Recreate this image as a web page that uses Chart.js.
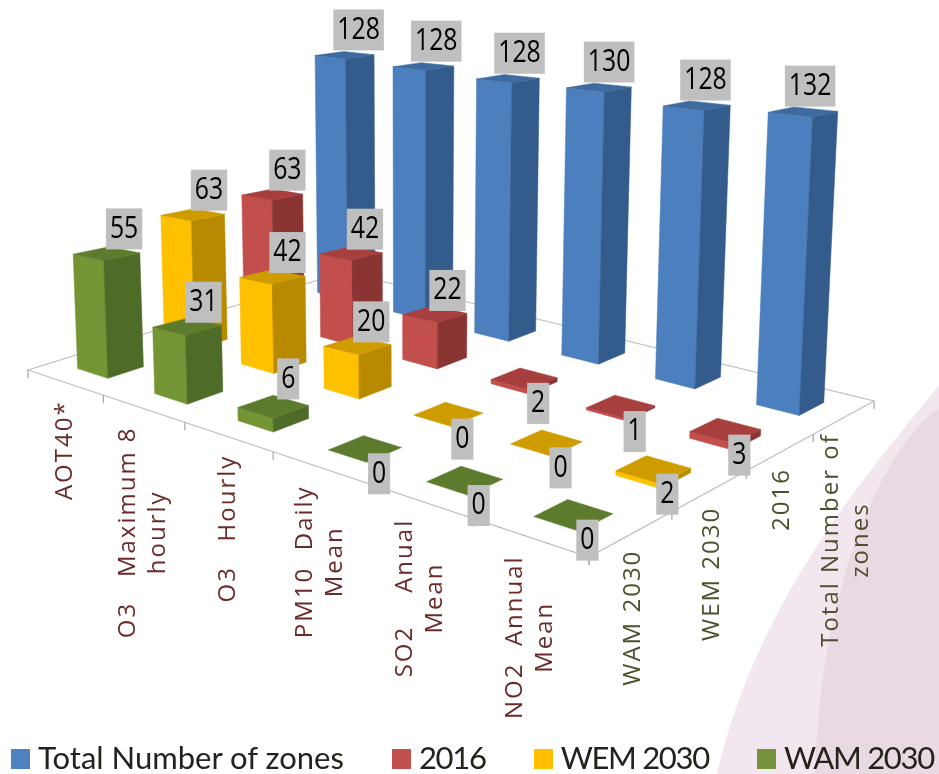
<!DOCTYPE html>
<html>
<head>
<meta charset="utf-8">
<title>Zones per pollutant and scenario</title>
<style>
    html, body { margin: 0; padding: 0; background: #fff; overflow: hidden; }
    #wrap { position: relative; width: 939px; height: 774px; }
    #legend {
        position: absolute; left: 11px; top: 738px; display: flex; gap: 48px;
        font: 31px Lato, sans-serif; color: #23231c; white-space: nowrap;
    }
    #legend span.item { display: flex; align-items: center; gap: 8px; }
    #legend span.item:not(:first-child) { letter-spacing: -1.3px; }
    #legend i { display: block; width: 19px; height: 20px; margin-top: 4px; }
</style>
<script src="https://cdn.jsdelivr.net/npm/chart.js@4"></script>
</head>
<body>
<div id="wrap">
    <canvas id="chart" width="939" height="774"></canvas>
    <div id="legend"></div>
</div>
<script>
const categories = [
    ['AOT40*'],
    ['O3   Maximum 8', 'hourly'],
    ['O3   Hourly'],
    ['PM10  Daily', 'Mean'],
    ['SO2    Anual', 'Mean'],
    ['NO2  Annual', 'Mean'],
];
const depthTicks = ['WAM 2030', 'WEM 2030', '2016', ['Total Number of', 'zones']];
const seriesNames = ['Total Number of zones', '2016', 'WEM 2030', 'WAM 2030'];
const totalZones = [128, 128, 128, 130, 128, 132];
const zones2016 = [63, 42, 22, 2, 1, 3];
const zonesWem = [63, 42, 20, 0, 0, 2];
const zonesWam = [55, 31, 6, 0, 0, 0];

// front, side and top face colours per series
const palette = [
    { legend: '#4f81bd', front: '#4c7fbd', side: '#335b8c', top: '#3d6a9f' },
    { legend: '#c0504d', front: '#c34f4c', side: '#8b3533', top: '#a63f3d' },
    { legend: '#ffc000', front: '#ffc000', side: '#b78a00', top: '#cf9c00' },
    { legend: '#76923c', front: '#749534', side: '#4e6b28', top: '#5c7b2d' },
];

// floor plane of the 3D view, corners in canvas pixels
const floor = { left: [28, 370], front: [589, 557], right: [874, 401], back: [344, 272] };
const barSpanU = 0.4;
const barSpanV = 0.4;
const vanishX = 410;
const leanPerPixel = 1.15e-4;

function makeProjection({ left, front, right, back }) {
    const dx1 = front[0] - right[0];
    const dx2 = back[0] - right[0];
    const sx = left[0] - front[0] + right[0] - back[0];
    const dy1 = front[1] - right[1];
    const dy2 = back[1] - right[1];
    const sy = left[1] - front[1] + right[1] - back[1];
    const det = dx1 * dy2 - dx2 * dy1;
    const g = (sx * dy2 - dx2 * sy) / det;
    const h = (dx1 * sy - sx * dy1) / det;
    const a = front[0] - left[0] + g * front[0];
    const b = back[0] - left[0] + h * back[0];
    const d = front[1] - left[1] + g * front[1];
    const e = back[1] - left[1] + h * back[1];
    return (u, v) => {
        const w = 1 + g * u + h * v;
        return { x: (a * u + b * v + left[0]) / w, y: (d * u + e * v + left[1]) / w, w };
    };
}
const project = makeProjection(floor);

// raises a floor point by a height in scale pixels, verticals lean away from the vanishing x
function lift(u, v, height) {
    const p = project(u, v);
    const rise = height / p.w;
    return { x: p.x + (p.x - vanishX) * rise * leanPerPixel, y: p.y - rise };
}

function quad(ctx, pts, fill) {
    ctx.beginPath();
    pts.forEach((p, i) => (i ? ctx.lineTo(p.x, p.y) : ctx.moveTo(p.x, p.y)));
    ctx.closePath();
    ctx.fillStyle = fill;
    ctx.fill();
    ctx.strokeStyle = fill;
    ctx.lineWidth = 0.5;
    ctx.stroke();
}

function fraction(scale, index) {
    return (scale.getPixelForValue(index) - scale.left) / scale.width;
}

class Bar3dController extends Chart.BarController {
    draw() {
        const { ctx, scales } = this.chart;
        const colors = palette[this.index];
        const data = this.getDataset().data;
        const v = fraction(scales.depth, depthTicks.length - 1 - this.index);
        const dv = barSpanV / (2 * depthTicks.length);
        const du = barSpanU / (2 * categories.length);
        data.forEach((value, i) => {
            const u = fraction(scales.x, i);
            const height = scales.y.getPixelForValue(0) - scales.y.getPixelForValue(value);
            const at = (su, sv, raised) => lift(u + su * du, v + sv * dv, raised ? height : 0);
            const frontTop = at(1, -1, true);
            // tall bars show a flatter top, the view is closer to their top face
            const squeeze = 1 - 0.3 * height / (height + 60);
            const topCorner = (su, sv) => {
                const p = at(su, sv, true);
                return { x: p.x, y: frontTop.y + (p.y - frontTop.y) * squeeze };
            };
            const topLeft = topCorner(-1, -1);
            const topRight = topCorner(1, 1);
            if (value > 0) {
                quad(ctx, [topLeft, frontTop, at(1, -1, false), at(-1, -1, false)], colors.front);
                quad(ctx, [frontTop, topRight, at(1, 1, false), at(1, -1, false)], colors.side);
            }
            quad(ctx, [topLeft, frontTop, topRight, topCorner(-1, 1)], colors.top);
        });
    }
}
Bar3dController.id = 'bar3d';
Bar3dController.defaults = Chart.BarController.defaults;
Bar3dController.overrides = Chart.BarController.overrides;
Chart.register(Bar3dController);

// pale corner shapes behind the chart
const backdrop = {
    id: 'backdrop',
    beforeDraw({ ctx }) {
        ctx.save();
        ctx.fillStyle = '#f3e7ef';
        ctx.beginPath();
        ctx.moveTo(939, 385);
        ctx.bezierCurveTo(880, 460, 760, 590, 717, 774);
        ctx.lineTo(939, 774);
        ctx.closePath();
        ctx.fill();
        ctx.fillStyle = '#e8d9e2';
        ctx.beginPath();
        ctx.moveTo(939, 408);
        ctx.bezierCurveTo(880, 450, 820, 590, 815, 774);
        ctx.lineTo(939, 774);
        ctx.closePath();
        ctx.fill();
        ctx.restore();
    },
};

function drawRotatedLabel(ctx, lines, x, top, color) {
    ctx.save();
    ctx.font = '24px "Open Sans", sans-serif';
    ctx.letterSpacing = '2px';
    ctx.fillStyle = color;
    ctx.textAlign = 'center';
    ctx.textBaseline = 'middle';
    const rows = [].concat(lines);
    const longest = Math.max(...rows.map((row) => ctx.measureText(row).width));
    const step = 30;
    rows.forEach((row, i) => {
        ctx.save();
        ctx.translate(x + (i - (rows.length - 1) / 2) * step, top + longest / 2);
        ctx.rotate(-Math.PI / 2);
        ctx.fillText(row, 0, 0);
        ctx.restore();
    });
    ctx.restore();
}

// floor outline, tick marks and the two rotated label rows
const floorAxes = {
    id: 'floorAxes',
    beforeDatasetsDraw({ ctx, scales }) {
        ctx.save();
        ctx.strokeStyle = '#bdbdbd';
        ctx.lineWidth = 1.2;
        ctx.beginPath();
        [floor.left, floor.front, floor.right, floor.back].forEach((p, i) => (i ? ctx.lineTo(p[0], p[1]) : ctx.moveTo(p[0], p[1])));
        ctx.closePath();
        ctx.stroke();
        ctx.strokeStyle = '#a6a6a6';
        const tick = (u, v) => {
            const p = project(u, v);
            ctx.beginPath();
            ctx.moveTo(p.x, p.y);
            ctx.lineTo(p.x, p.y + 8);
            ctx.stroke();
        };
        for (let i = 0; i <= categories.length; i++) {
            tick(i / categories.length, 0);
        }
        for (let i = 0; i <= depthTicks.length; i++) {
            tick(1, i / depthTicks.length);
        }
        ctx.restore();
        scales.x.getLabels().forEach((lines, i) => {
            const p = project(fraction(scales.x, i), 0);
            drawRotatedLabel(ctx, lines, p.x, p.y + 18, '#6b2a2a');
        });
        scales.depth.getLabels().forEach((lines, i) => {
            const p = project(1, fraction(scales.depth, i));
            drawRotatedLabel(ctx, lines, p.x + 2, p.y + 16, '#4f4f2d');
        });
    },
};

// grey value tags, above the bar or below it when the bar is nearly flat
const valueTags = {
    id: 'valueTags',
    afterDatasetsDraw(chart) {
        const { ctx, scales } = chart;
        const narrow = 0.8;
        ctx.save();
        ctx.font = '31px "Open Sans", sans-serif';
        ctx.textAlign = 'center';
        ctx.textBaseline = 'middle';
        chart.data.datasets.forEach((dataset, s) => {
            const v = fraction(scales.depth, depthTicks.length - 1 - s);
            dataset.data.forEach((value, i) => {
                const u = fraction(scales.x, i);
                const height = scales.y.getPixelForValue(0) - scales.y.getPixelForValue(value);
                const top = lift(u, v, height);
                const flat = value <= 3;
                const cx = top.x + (flat ? 14 : 13 - (top.x - vanishX) * 0.015);
                const cy = top.y + (flat ? 25 : -29 + 7 * Math.min(1, value / 20) - 2 * Math.min(1, value / 128));
                const text = String(value);
                const w = ctx.measureText(text).width * narrow + 8;
                ctx.fillStyle = '#bfbfbf';
                ctx.fillRect(cx - w / 2, cy - 20.5, w, 41);
                ctx.save();
                ctx.translate(cx, cy);
                ctx.scale(narrow, 1);
                ctx.fillStyle = '#000';
                ctx.fillText(text, 0, 0);
                ctx.restore();
            });
        });
        ctx.restore();
    },
};

const seriesValues = [totalZones, zones2016, zonesWem, zonesWam];

new Chart(document.getElementById('chart'), {
    type: 'bar3d',
    data: {
        labels: categories,
        datasets: seriesNames.map((name, i) => ({
            label: name,
            data: seriesValues[i],
            backgroundColor: palette[i].legend,
            order: seriesNames.length - 1 - i,
            clip: false,
        })),
    },
    options: {
        responsive: false,
        animation: false,
        plugins: { legend: { display: false }, tooltip: { enabled: false } },
        scales: {
            x: { display: false },
            y: { display: false, min: 0, max: 366 },
            depth: { type: 'category', axis: 'x', labels: depthTicks, offset: true, display: false },
        },
    },
    plugins: [backdrop, floorAxes, valueTags],
});

const legendEl = document.getElementById('legend');
seriesNames.forEach((name, i) => {
    const item = document.createElement('span');
    item.className = 'item';
    const swatch = document.createElement('i');
    swatch.style.background = palette[i].legend;
    item.append(swatch, name);
    legendEl.append(item);
});
</script>
</body>
</html>
